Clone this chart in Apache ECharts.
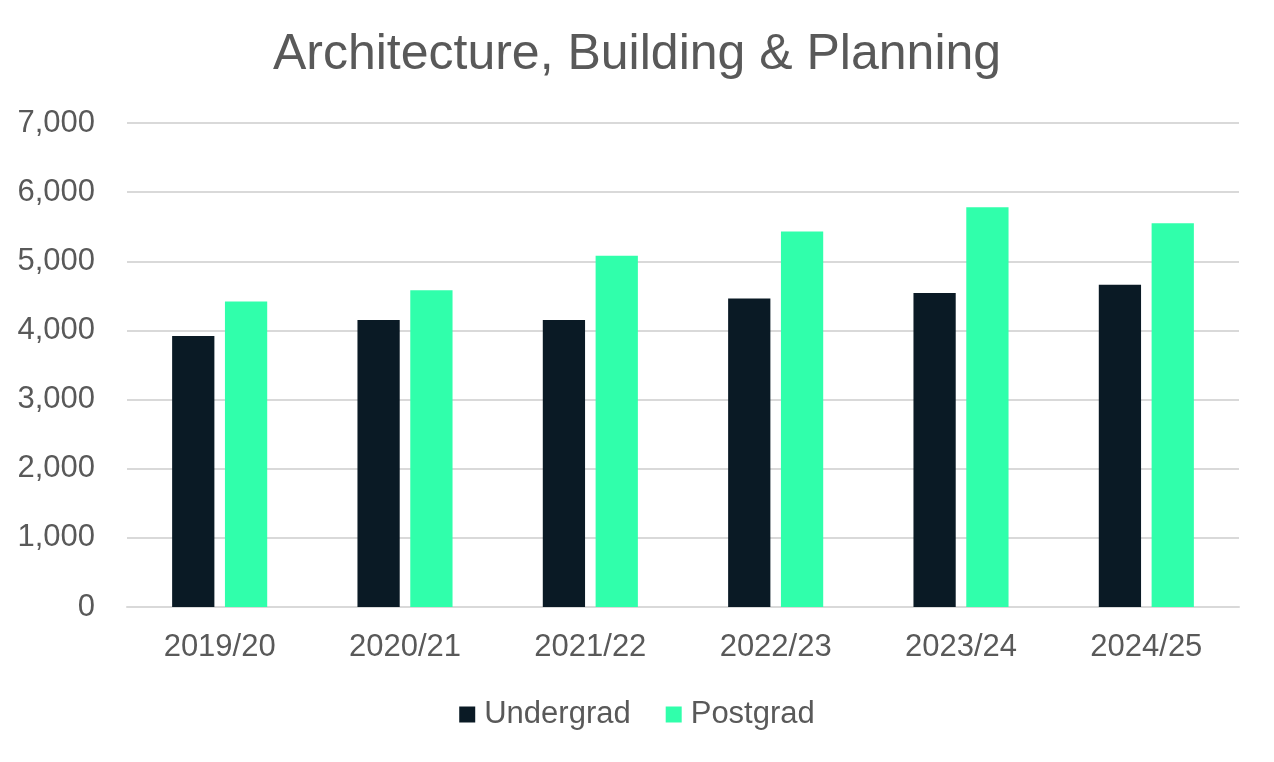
<!DOCTYPE html>
<html>
<head>
<meta charset="utf-8">
<script src="https://cdn.jsdelivr.net/npm/echarts@6/dist/echarts.min.js"></script>
<style>
  html, body { margin: 0; padding: 0; background: #fff; }
  #chart { width: 1274px; height: 762px; }
</style>
</head>
<body>
<div id="chart"></div>
<script>
// academic years
const years = ['2019/20', '2020/21', '2021/22', '2022/23', '2023/24', '2024/25'];
// student numbers
const undergrad = [3920, 4150, 4150, 4460, 4540, 4660];
const postgrad = [4420, 4580, 5080, 5430, 5780, 5550];

const textColor = '#595959';
const fontFamily = 'Liberation Sans, Arial, sans-serif';

let chart = echarts.init(document.getElementById('chart'));

chart.setOption({
    animation: false,
    title: {
        text: 'Architecture, Building & Planning',
        left: 'center',
        top: 25,
        textStyle: {
            color: textColor,
            fontFamily: fontFamily,
            fontSize: 50,
            fontWeight: 'normal'
        }
    },
    legend: {
        data: ['Undergrad', 'Postgrad'],
        bottom: 27,
        left: 'center',
        icon: 'rect',
        itemWidth: 16,
        itemHeight: 16,
        itemGap: 35,
        textStyle: {
            color: textColor,
            fontFamily: fontFamily,
            fontSize: 31,
            padding: [0, 0, 0, 4]
        }
    },
    grid: {
        left: 127,
        right: 35,
        top: 123,
        bottom: 155,
        containLabel: false
    },
    xAxis: {
        type: 'category',
        data: years,
        axisLine: { lineStyle: { color: '#d9d9d9', width: 2 } },
        axisTick: { show: false },
        axisLabel: {
            color: textColor,
            fontFamily: fontFamily,
            fontSize: 31,
            margin: 25
        }
    },
    yAxis: {
        type: 'value',
        min: 0,
        max: 7000,
        interval: 1000,
        axisLine: { show: false },
        axisTick: { show: false },
        splitLine: { lineStyle: { color: '#d9d9d9', width: 2 } },
        axisLabel: {
            color: textColor,
            fontFamily: fontFamily,
            fontSize: 31,
            margin: 32,
            formatter: (v) => v.toLocaleString('en-US')
        }
    },
    series: [
        {
            name: 'Undergrad',
            type: 'bar',
            data: undergrad,
            barWidth: '22.8%',
            barGap: '25%',
            itemStyle: { color: '#0a1a25' }
        },
        {
            name: 'Postgrad',
            type: 'bar',
            data: postgrad,
            barWidth: '22.8%',
            itemStyle: { color: '#30ffab' }
        }
    ]
});
</script>
</body>
</html>
